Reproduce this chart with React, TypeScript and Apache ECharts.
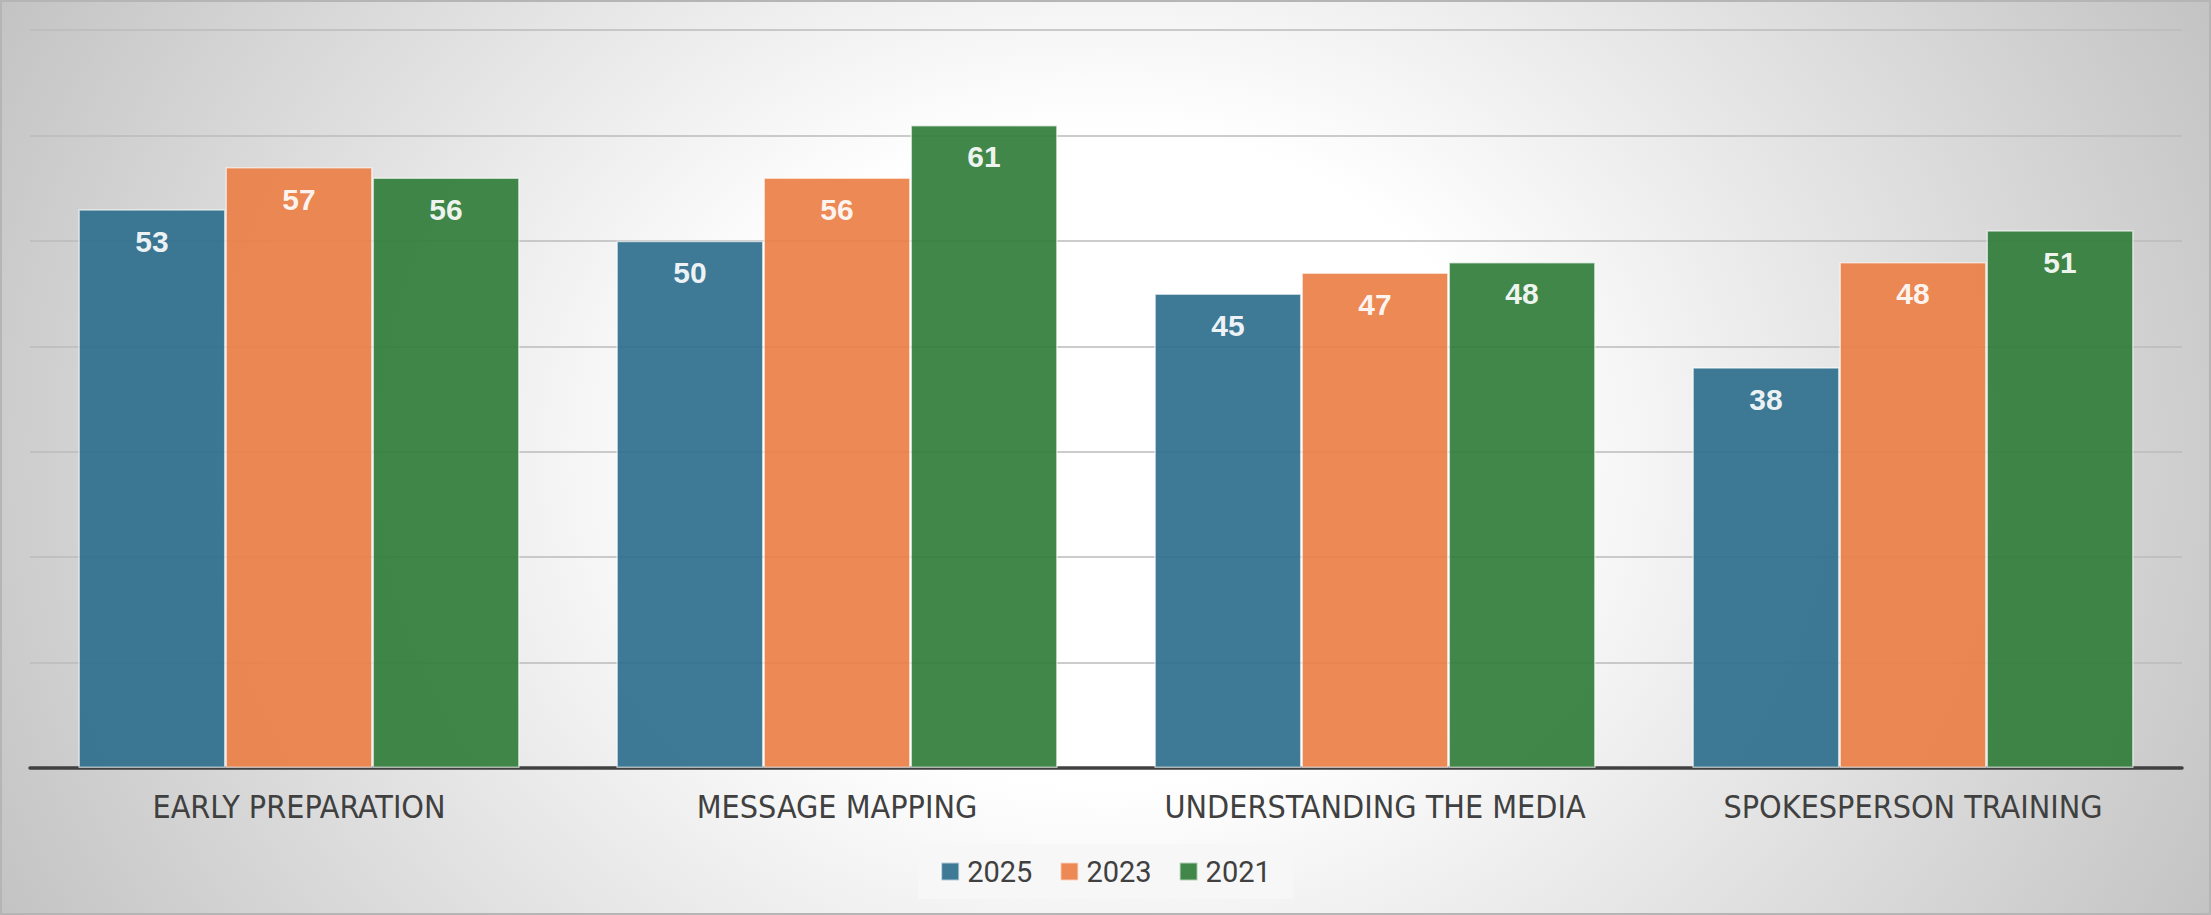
import React, { useEffect, useRef } from "react";
import * as echarts from "echarts";

const categories = [
  "EARLY PREPARATION",
  "MESSAGE MAPPING",
  "UNDERSTANDING THE MEDIA",
  "SPOKESPERSON TRAINING",
];
const seriesNames = ["2025", "2023", "2021"];
const values2025 = [53, 50, 45, 38];
const values2023 = [57, 56, 47, 48];
const values2021 = [56, 61, 48, 51];
const colors = ["#2E6E8C", "#EA7F47", "#327D3B"];

const W = 2211;
const H = 915;

export default function App() {
  const ref = useRef<HTMLDivElement>(null);
  useEffect(() => {
    document.body.style.margin = "0";
    if (!ref.current) return;
    const chart = echarts.init(ref.current, null, { renderer: "svg" });
    const data = [values2025, values2023, values2021];
    chart.setOption({
      animation: false,
      graphic: [
        {
          type: "rect",
          z: -100,
          silent: true,
          shape: { x: 0, y: -H * 0.5, width: W, height: H * 2 },
          style: {
            fill: {
              type: "radial",
              x: 0.5,
              y: 0.5,
              r: 0.56,
              colorStops: [
                { offset: 0, color: "#ffffff" },
                { offset: 0.32, color: "#ffffff" },
                { offset: 1, color: "#c3c3c3" },
              ],
            },
          },
        },
        {
          type: "rect",
          z: 100,
          silent: true,
          shape: { x: 1, y: 1, width: W - 2, height: H - 2 },
          style: { fill: "none", stroke: "#b5b5b5", lineWidth: 2 },
        },
      ],
      grid: { left: 30, right: 29, top: 30, bottom: 147, containLabel: false },
      legend: {
        data: seriesNames,
        left: "center",
        top: 844,
        padding: [13, 22],
        backgroundColor: "#f7f7f7",
        itemWidth: 18,
        itemHeight: 18,
        itemGap: 27,
        icon: "rect",
        textStyle: {
          fontSize: 29,
          color: "#404040",
          fontFamily: "Roboto, 'Liberation Sans', sans-serif",
          padding: [0, 0, 0, 3],
        },
      },
      xAxis: {
        type: "category",
        data: categories,
        axisLine: { lineStyle: { color: "#404040", width: 3.5 } },
        axisTick: { show: false },
        axisLabel: {
          interval: 0,
          margin: 23,
          fontSize: 32,
          color: "#404040",
          fontFamily: "'Liberation Sans Narrow', 'DejaVu Sans Condensed', sans-serif",
        },
      },
      yAxis: {
        type: "value",
        min: 0,
        max: 70,
        interval: 10,
        axisLabel: { show: false },
        axisLine: { show: false },
        axisTick: { show: false },
        splitLine: { lineStyle: { color: "#bbbbbb", width: 1.5 } },
      },
      series: seriesNames.map((name, i) => ({
        name,
        type: "bar",
        data: data[i],
        barGap: "0%",
        barCategoryGap: "18%",
        itemStyle: {
          color: colors[i],
          opacity: 0.92,
          borderColor: "rgba(255,255,255,0.65)",
          borderWidth: 1.5,
        },
        label: {
          show: true,
          position: "insideTop",
          distance: 17,
          color: "#ffffff",
          fontSize: 30,
          fontWeight: "bold",
          fontFamily: "'Liberation Sans', Arial, sans-serif",
        },
      })),
    });
    return () => chart.dispose();
  }, []);
  return <div ref={ref} style={{ width: W, height: H }} />;
}
